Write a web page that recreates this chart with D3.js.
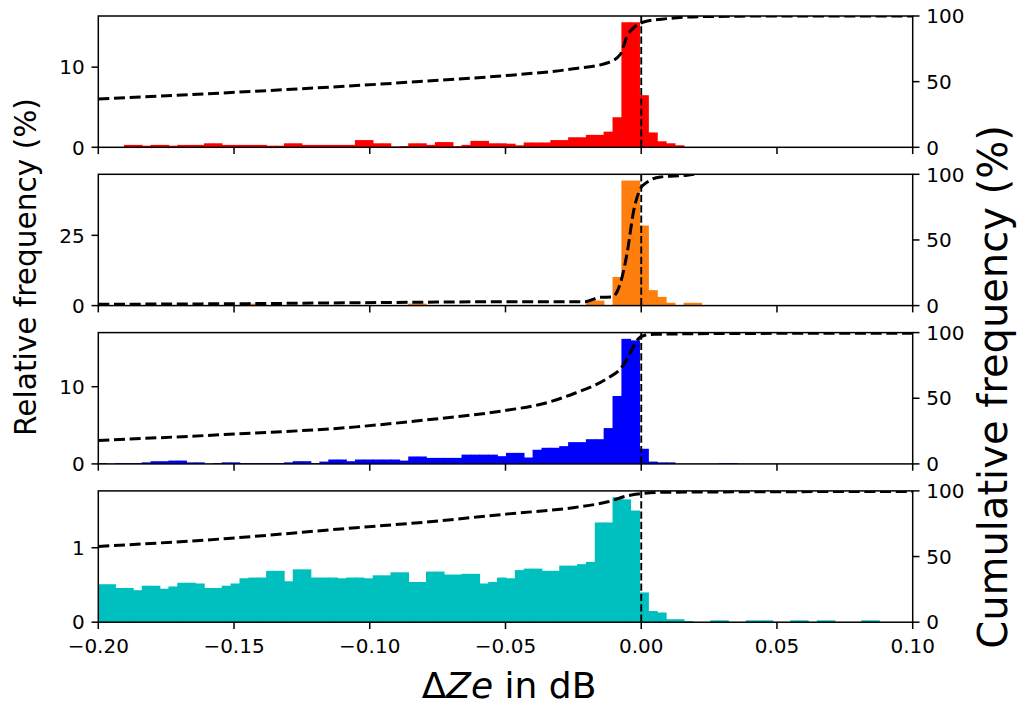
<!DOCTYPE html>
<html><head><meta charset="utf-8">
<script src="https://cdn.jsdelivr.net/npm/d3@7"></script>
<style>body{margin:0;background:#fff} text{font-family:"DejaVu Sans",sans-serif;fill:#000}</style>
</head><body><svg id="c" width="1017" height="705"></svg>
<script>
// ---- data ----
const binStart = -0.20035;
const binWidth = 0.003272;
const redHeights = [0,0,0,0.3,0.3,0.2,0.3,0.3,0.2,0.3,0.3,0.3,0.5,0.5,0.3,0.3,0.3,0.3,0.3,0.2,0.2,0.5,0.5,0.3,0.3,0.3,0.3,0.3,0.3,0.9,0.9,0.5,0.5,0.1,0.15,0.5,0.5,0.3,0.65,0.65,0.15,0.3,0.8,0.8,0.5,0.5,0.45,0.25,0.6,0.6,0.6,0.9,0.9,1.25,1.25,1.55,1.55,1.95,3.75,15.6,15.6,6.5,1.85,0.75,0.5,0.25];
const orangeHeights = [0,0,0,0,0,0,0,0,0,0,0,0,0,0,0,0,0,0.7,0,0,0,0,0,0,0,0,0,0,0,0,0,0,0,0,0,0.7,0.7,0,0,0,0,0,0,0,0,0,0,0,0,0,0,0,0,0,0,1.8,1.8,0,10.2,44.5,44.5,28.5,5.5,3.1,1.0,0,1.0,1.0];
const blueHeights = [0.1,0,0.1,0.1,0.1,0.2,0.35,0.35,0.43,0.43,0.2,0.2,0,0.1,0.2,0.2,0.1,0.1,0.1,0.1,0.1,0.2,0.35,0.35,0.1,0.3,0.57,0.57,0.35,0.57,0.57,0.57,0.57,0.57,0.43,0.96,0.96,0.78,0.78,0.78,0.78,1.2,1.2,1.2,1.2,1.0,1.43,1.43,0.83,1.83,2.09,2.09,2.3,2.82,2.82,3.2,3.2,4.64,8.8,16.2,16.0,1.96,0.3,0.2,0.2,0,0,0,0,0,0.1,0.1];
const cyanHeights = [0.51,0.51,0.46,0.46,0.43,0.49,0.49,0.45,0.48,0.53,0.53,0.52,0.46,0.46,0.49,0.52,0.59,0.60,0.60,0.69,0.69,0.55,0.71,0.71,0.60,0.60,0.60,0.59,0.60,0.60,0.59,0.63,0.63,0.67,0.67,0.54,0.54,0.68,0.68,0.64,0.64,0.65,0.65,0.52,0.54,0.60,0.59,0.70,0.72,0.72,0.69,0.69,0.76,0.76,0.78,0.81,1.34,1.34,1.68,1.65,1.50,0.40,0.15,0.13,0.04,0.04,0.015,0,0,0.025,0.025,0,0,0.025,0.025,0.025,0,0,0.025,0.025,0,0.025,0.025,0,0,0,0.025,0.025];

const redCumX = [-0.200,-0.154,-0.105,-0.080,-0.050,-0.025,-0.0123,-0.0077,-0.0052,-0.0028,0.0009,0.0095,0.0218,0.05,0.1];
const redCumY = [36.8,41.4,47.0,50.3,54.6,59.8,64.4,70.7,84.7,91.1,95.4,98.0,99.5,100,100];
const orangeCumX = [-0.200,-0.145,-0.086,-0.050,-0.0206,-0.0151,-0.0108,-0.0077,-0.0052,-0.0028,-0.0003,0.0022,0.0071,0.0170,0.0195];
const orangeCumY = [1.0,1.5,2.5,3.0,3.0,6.3,6.5,17,40,72,89,94,98,99.3,100];
const blueCumX = [-0.200,-0.154,-0.105,-0.080,-0.049,-0.037,-0.0245,-0.0123,-0.0074,-0.0037,-0.0018,0.0013,0.005,0.03,0.1];
const blueCumY = [17.9,22.3,28.2,33.3,41.0,45.4,53.8,65.4,73,85.8,93.5,98,98.7,99.3,99.6];
const cyanCumX = [-0.200,-0.154,-0.105,-0.080,-0.049,-0.0245,-0.0123,-0.0052,-0.0003,0.0095,0.1];
const cyanCumY = [57.7,63.5,72.0,76.1,82.5,87.4,91.7,96.2,97.8,99.0,99.6];

const xTicks = [-0.20,-0.15,-0.10,-0.05,0.00,0.05,0.10];
const xTickLabels = ["\u22120.20","\u22120.15","\u22120.10","\u22120.05","0.00","0.05","0.10"];
const leftTicks = [[0,10],[0,25],[0,10],[0,1]];
const rightTicks = [0,50,100];
const seriesColors = ["#ff0000","#ff7f0e","#0000ff","#00bfbf"];

const panels = [
  {h: redHeights, cx: redCumX, cy: redCumY},
  {h: orangeHeights, cx: orangeCumX, cy: orangeCumY},
  {h: blueHeights, cx: blueCumX, cy: blueCumY},
  {h: cyanHeights, cx: cyanCumX, cy: cyanCumY}
];

// ---- layout ----
const L = 98.3, R = 912.7, H = 131.3, TOP0 = 16, STEP = 158.3;
const svg = d3.select("#c");
const x = d3.scaleLinear().domain([-0.2, 0.1]).range([L, R]);
const tickLen = 6.8, pad = 6.8;

panels.forEach((p, i) => {
  const top = TOP0 + STEP * i, bot = top + H;
  const yMax = d3.max(p.h) * 1.05;
  const y = d3.scaleLinear().domain([0, yMax]).range([bot, top]);
  const y2 = d3.scaleLinear().domain([0, 100]).range([bot, top]);
  const clipId = "clip" + i;
  svg.append("clipPath").attr("id", clipId).append("rect")
    .attr("x", L).attr("y", top).attr("width", R - L).attr("height", H);
  const g = svg.append("g").attr("clip-path", `url(#${clipId})`);

  const bars = p.h.map((v, k) => ({x0: binStart + k * binWidth, v})).filter(d => d.v > 0);
  g.append("g")
    .selectAll("rect.bar").data(bars).join("rect").attr("class", "bar")
    .attr("x", d => x(d.x0))
    .attr("width", d => x(d.x0 + binWidth) - x(d.x0) + 0.8)
    .attr("y", d => y(d.v))
    .attr("height", d => bot - y(d.v))
    .attr("fill", seriesColors[i]);

  // vertical dashed line at zero
  g.append("line").attr("x1", x(0)).attr("x2", x(0)).attr("y1", top).attr("y2", bot)
    .attr("stroke", "#000").attr("stroke-width", 1.9).attr("stroke-dasharray", "7.2,3.1");

  // cumulative line
  const pts = p.cx.map((v, k) => [v, p.cy[k]]);
  const line = d3.line().x(d => x(d[0])).y(d => y2(d[1])).curve(d3.curveMonotoneX);
  g.append("path").attr("d", line(pts)).attr("fill", "none").attr("stroke", "#000")
    .attr("stroke-width", 3).attr("stroke-dasharray", "11,4.7");

  // frame
  svg.append("rect").attr("x", L).attr("y", top).attr("width", R - L).attr("height", H)
    .attr("fill", "none").attr("stroke", "#000").attr("stroke-width", 1.5);

  // x ticks
  const gx = svg.append("g");
  xTicks.forEach((t, k) => {
    gx.append("line").attr("x1", x(t)).attr("x2", x(t)).attr("y1", bot).attr("y2", bot + tickLen)
      .attr("stroke", "#000").attr("stroke-width", 1.5);
    if (i === 3) {
      gx.append("text").attr("x", x(t)).attr("y", bot + tickLen + pad + 17)
        .attr("text-anchor", "middle").attr("font-size", 20).text(xTickLabels[k]);
    }
  });
  // left ticks
  leftTicks[i].forEach(t => {
    svg.append("line").attr("x1", L - tickLen).attr("x2", L).attr("y1", y(t)).attr("y2", y(t))
      .attr("stroke", "#000").attr("stroke-width", 1.5);
    svg.append("text").attr("x", L - tickLen - pad).attr("y", y(t)).attr("dy", "0.36em")
      .attr("text-anchor", "end").attr("font-size", 20).text(String(t));
  });
  // right ticks
  rightTicks.forEach(t => {
    svg.append("line").attr("x1", R).attr("x2", R + tickLen).attr("y1", y2(t)).attr("y2", y2(t))
      .attr("stroke", "#000").attr("stroke-width", 1.5);
    svg.append("text").attr("x", R + tickLen + pad).attr("y", y2(t)).attr("dy", "0.36em")
      .attr("text-anchor", "start").attr("font-size", 20).text(String(t));
  });
});

// axis labels
svg.append("text").attr("transform", "translate(36,267) rotate(-90)")
  .attr("text-anchor", "middle").attr("font-size", 29.6).text("Relative frequency (%)");
svg.append("text").attr("transform", "translate(1007,387) rotate(-90)")
  .attr("text-anchor", "middle").attr("font-size", 40).text("Cumulative frequency (%)");
const xl = svg.append("text").attr("x", 509).attr("y", 698).attr("text-anchor", "middle").attr("font-size", 36);
xl.append("tspan").text("\u0394");
xl.append("tspan").attr("font-style", "italic").text("Ze");
xl.append("tspan").text(" in dB");
</script></body></html>
